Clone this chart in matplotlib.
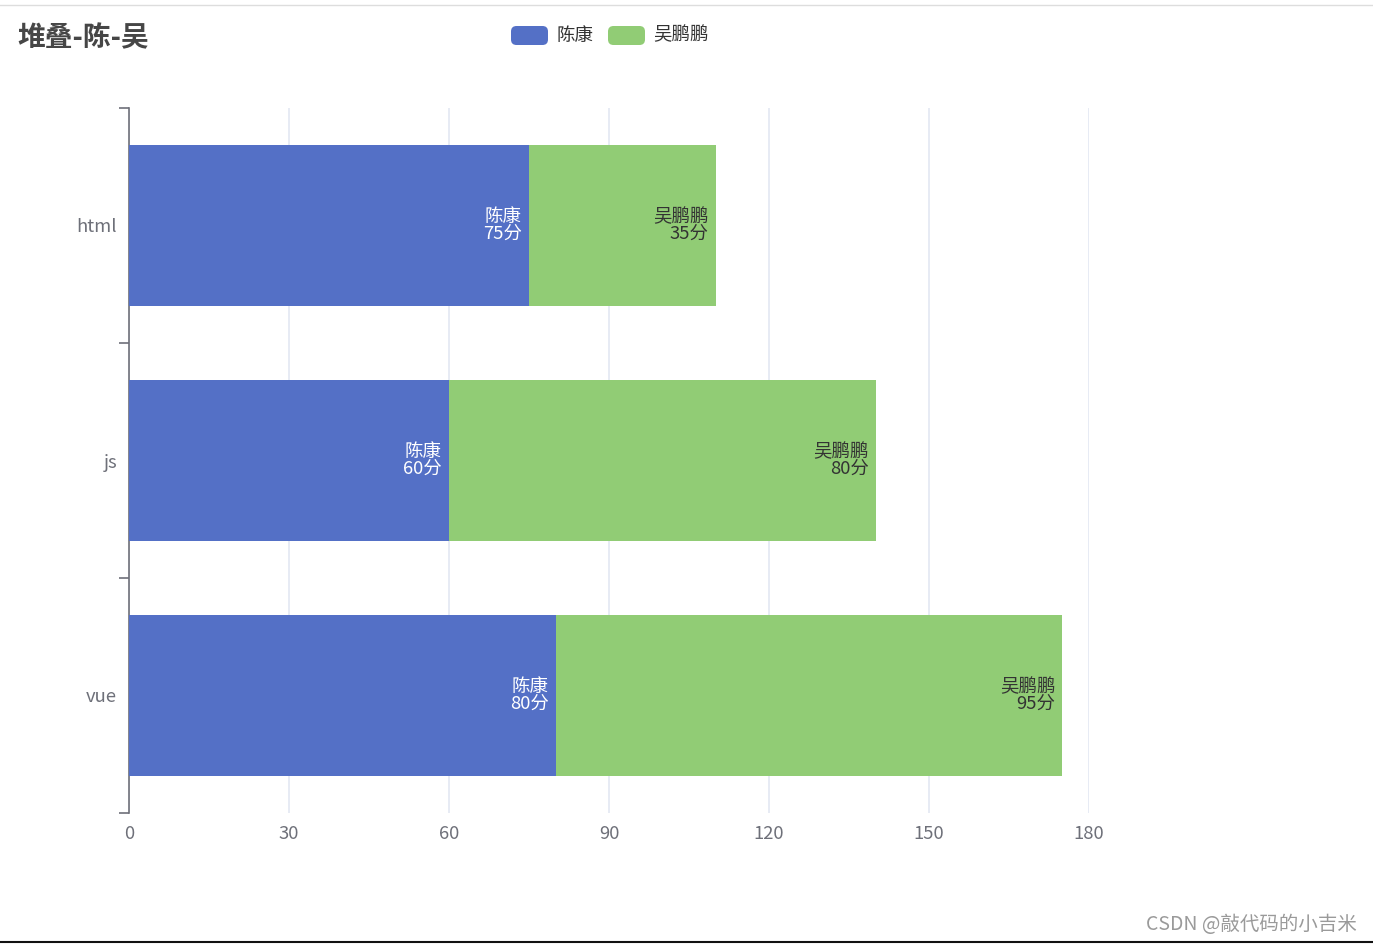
import matplotlib
matplotlib.use("Agg")
import matplotlib.pyplot as plt
from matplotlib.patches import FancyBboxPatch
from matplotlib.lines import Line2D
import numpy as np

plt.rcParams['font.family'] = ['Noto Sans CJK SC', 'DejaVu Sans']

categories = ['html', 'js', 'vue']
series_names = ['陈康', '吴鹏鹏']
chen_values = [75, 60, 80]
wu_values = [35, 80, 95]
x_ticks = [0, 30, 60, 90, 120, 150, 180]
title = '堆叠-陈-吴'
watermark = 'CSDN @敲代码的小吉米'

BLUE = '#5470C6'
GREEN = '#91CC75'
AXIS = '#6E7079'
GRID = '#E0E6F1'

W, H = 1373, 944
fig = plt.figure(figsize=(W / 100, H / 100), dpi=100)
fig.patch.set_facecolor('white')

L, R, T, B = 129, 1089, 108, 813
ax = fig.add_axes([L / W, 1 - B / H, (R - L) / W, (B - T) / H])

ypos = np.arange(len(categories))
bar_h = 0.685
ax.barh(ypos, chen_values, height=bar_h, color=BLUE, zorder=3)
ax.barh(ypos, wu_values, left=chen_values, height=bar_h, color=GREEN, zorder=3)

ax.set_xlim(x_ticks[0], x_ticks[-1])
ax.set_ylim(len(categories) - 0.5, -0.5)

# labels inside right
pad = 7 * (x_ticks[-1] - x_ticks[0]) / (R - L)
for i in range(len(categories)):
    c = chen_values[i]
    w = wu_values[i]
    ax.text(c - pad, ypos[i], f'{series_names[0]}\n{c}分', ha='right', va='center',
            color='white', fontsize=13.3, linespacing=0.93, zorder=4, multialignment='right')
    ax.text(c + w - pad, ypos[i], f'{series_names[1]}\n{w}分', ha='right', va='center',
            color='#333333', fontsize=13.3, linespacing=0.93, zorder=4, multialignment='right')

# axes styling
for s in ['top', 'right', 'bottom']:
    ax.spines[s].set_visible(False)
ax.spines['left'].set_color(AXIS)
ax.spines['left'].set_linewidth(1.2)

ax.set_xticks(x_ticks)
ax.set_xticklabels([str(v) for v in x_ticks])
ax.tick_params(axis='x', length=0, pad=8.5, labelsize=13.3, labelcolor=AXIS)
ax.xaxis.grid(True, color=GRID, linewidth=1.1, zorder=0)
ax.set_axisbelow(True)

ax.set_yticks(ypos)
ax.set_yticklabels(categories)
ax.tick_params(axis='y', which='major', length=0, pad=8.5, labelsize=13.3, labelcolor=AXIS)
for lbl in ax.get_yticklabels():
    lbl.set_y(lbl.get_position()[1])
ax.set_yticks(np.arange(len(categories) + 1) - 0.5, minor=True)
ax.tick_params(axis='y', which='minor', length=7, width=1.2, color=AXIS, direction='out')

# title
fig.text(17 / W, 1 - 38 / H, title, fontsize=20, fontweight='bold', color='#464646',
         ha='left', va='center')

# legend
items = [(511, BLUE, series_names[0], 557), (608, GREEN, series_names[1], 653)]
for x0, col, name, tx in items:
    rect = FancyBboxPatch((x0 / W, 1 - 45 / H), 37 / W, 19 / H,
                          boxstyle='round,pad=0,rounding_size=0.004',
                          transform=fig.transFigure, facecolor=col, edgecolor='none',
                          mutation_aspect=W / H)
    fig.patches.append(rect)
    fig.text(tx / W, 1 - 35.5 / H, name, fontsize=13.3, color='#333333', ha='left', va='center')

# border lines
fig.add_artist(Line2D([0, 1], [1 - 5 / H, 1 - 5 / H], transform=fig.transFigure,
                      color='#DDDDDD', linewidth=1))
fig.add_artist(Line2D([0, 1], [1 - 942 / H, 1 - 942 / H], transform=fig.transFigure,
                      color='#111111', linewidth=1.5))

# watermark
fig.text(1357 / W, 1 - 925 / H, watermark, fontsize=14, color='#9A9A9A', ha='right', va='center')

fig.savefig('out.png', dpi=100, facecolor='white')
